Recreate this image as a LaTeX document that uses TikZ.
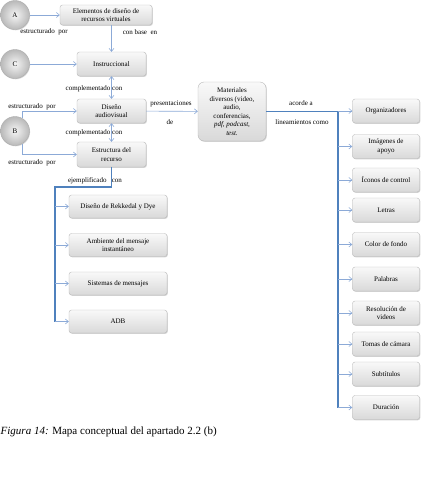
\documentclass[tikz,border=0pt]{standalone}
\usepackage{fontspec}
\setmainfont{Liberation Serif}
\usetikzlibrary{arrows.meta,shadows}
\definecolor{enlace}{RGB}{79,129,189}
\definecolor{enlaceclaro}{RGB}{140,170,215}
\begin{document}
\begin{tikzpicture}[x=1pt,y=-1pt,
  caja/.style={draw=gray!55, rounded corners=2.5pt, top color=gray!5, bottom color=gray!30,
    drop shadow={shadow xshift=.8pt,shadow yshift=-.8pt,opacity=.35},
    align=center, font=\fontsize{7}{8.5}\selectfont, inner sep=1pt, minimum height=24pt},
  bola/.style={circle, draw=gray!65, inner color=gray!8, outer color=gray!55,
    drop shadow={shadow xshift=.6pt,shadow yshift=-.8pt,opacity=.3},
    minimum size=29pt, inner sep=0pt, font=\fontsize{7}{8}\selectfont},
  enl/.style={draw=enlaceclaro, line width=.6pt, -{Straight Barb[length=3pt,width=5pt]}},
  doble/.style={enl, {Straight Barb[length=3pt,width=5pt]}-{Straight Barb[length=3pt,width=5pt]}},
  bus/.style={draw=enlace, line width=1.1pt},
  etiq/.style={font=\fontsize{7}{8}\selectfont, inner sep=0pt}]
\useasboundingbox (0,0) rectangle (424,485);

% circulos
\node[bola] (A) at (15,15) {A};
\node[bola] (C) at (15,64) {C};
\node[bola] (B) at (15,131) {B};

% eje central
\node[caja, minimum width=92pt, minimum height=20pt] (elem) at (106,15) {Elementos de diseño de\\recursos virtuales};
\node[caja, minimum width=69pt] (instr) at (111.5,64) {Instruccional};
\node[caja, minimum width=69pt] (disen) at (111.5,111) {Diseño\\audiovisual};
\node[caja, minimum width=69pt, minimum height=25pt] (estr) at (111.5,154.5) {Estructura del\\recurso};
\node[caja, minimum width=68pt, minimum height=59pt, rounded corners=6pt] (mat) at (232,111.5)
  {Materiales\\diversos (video,\\audio,\\conferencias,\\\textit{pdf, podcast,}\\\textit{test}.};

% columna derecha
\node[caja, minimum width=67pt] (org) at (386,111) {Organizadores};
\node[caja, minimum width=67pt] (img) at (386,146.5) {Imágenes de\\apoyo};
\node[caja, minimum width=67pt] (ico) at (386,180) {Íconos de control};
\node[caja, minimum width=67pt] (let) at (386,210) {Letras};
\node[caja, minimum width=67pt] (col) at (386,244.5) {Color de fondo};
\node[caja, minimum width=67pt] (pal) at (386,279) {Palabras};
\node[caja, minimum width=67pt] (res) at (386,313) {Resolución de\\videos};
\node[caja, minimum width=67pt] (tom) at (386,344) {Tomas de cámara};
\node[caja, minimum width=67pt] (sub) at (386,374) {Subtítulos};
\node[caja, minimum width=67pt] (dur) at (386,407.5) {Duración};

% columna izquierda
\node[caja, minimum width=98pt, minimum height=23pt] (rek) at (118,206.5) {Diseño de Rekkedal y Dye};
\node[caja, minimum width=98pt, minimum height=23pt] (amb) at (118,245) {Ambiente del mensaje\\instantáneo};
\node[caja, minimum width=98pt, minimum height=23pt] (sis) at (118,283.5) {Sistemas de mensajes};
\node[caja, minimum width=98pt, minimum height=23pt] (adb) at (118,321.5) {ADB};

% conectores
\draw[enl] (A.east |- elem.west) -- (elem.west);
\draw[enl] (elem.south -| instr.north) -- (instr.north);
\draw[enl] (C.east) -- (instr.west);
\draw[doble] (instr) -- (disen);
\draw[doble] (disen) -- (estr);
\draw[enl] (B.60) |- (disen.west);
\draw[enl] (B.-60) |- (estr.west);
\draw[enl] (disen) -- (mat);

\coordinate (busR) at (338,111.5);
\draw[bus] (mat.east) -- (busR) -- (busR |- dur);
\foreach \n in {org,img,ico,let,col,pal,res,tom,sub,dur}
  \draw[enl] (busR |- \n) -- (\n);

\coordinate (busL) at (55,187);
\draw[bus] (estr.south) |- (busL) -- (busL |- adb);
\foreach \n in {rek,amb,sis,adb}
  \draw[enl] (busL |- \n) -- (\n);

% etiquetas
\node[etiq] (e1) at (44,32) {estructurado\ \ por};
\node[etiq] (e2) at (140,32) {con base\ \ en};
\node[etiq] (e3) at (94,89) {complementado\ con};
\node[etiq] (e4) at (32,107) {estructurado\ \ por};
\node[etiq] (e5) at (94,133) {complementado\ con};
\node[etiq] (e6) at (32,163) {estructurado\ \ por};
\node[etiq] (e7) at (95,181) {ejemplificado\ \ \ con};
\node[etiq] (e8) at (171,104) {presentaciones};
\node[etiq] (e9) at (170,122) {de};
\node[etiq] (e10) at (301,103) {acorde a};
\node[etiq] (e11) at (302,122) {lineamientos como};

\node[anchor=west, inner sep=0pt, font=\fontsize{11}{13}\selectfont] (pie) at (0.5,432)
  {\textit{Figura 14:} Mapa conceptual del apartado 2.2 (b)};
\end{tikzpicture}
\end{document}
